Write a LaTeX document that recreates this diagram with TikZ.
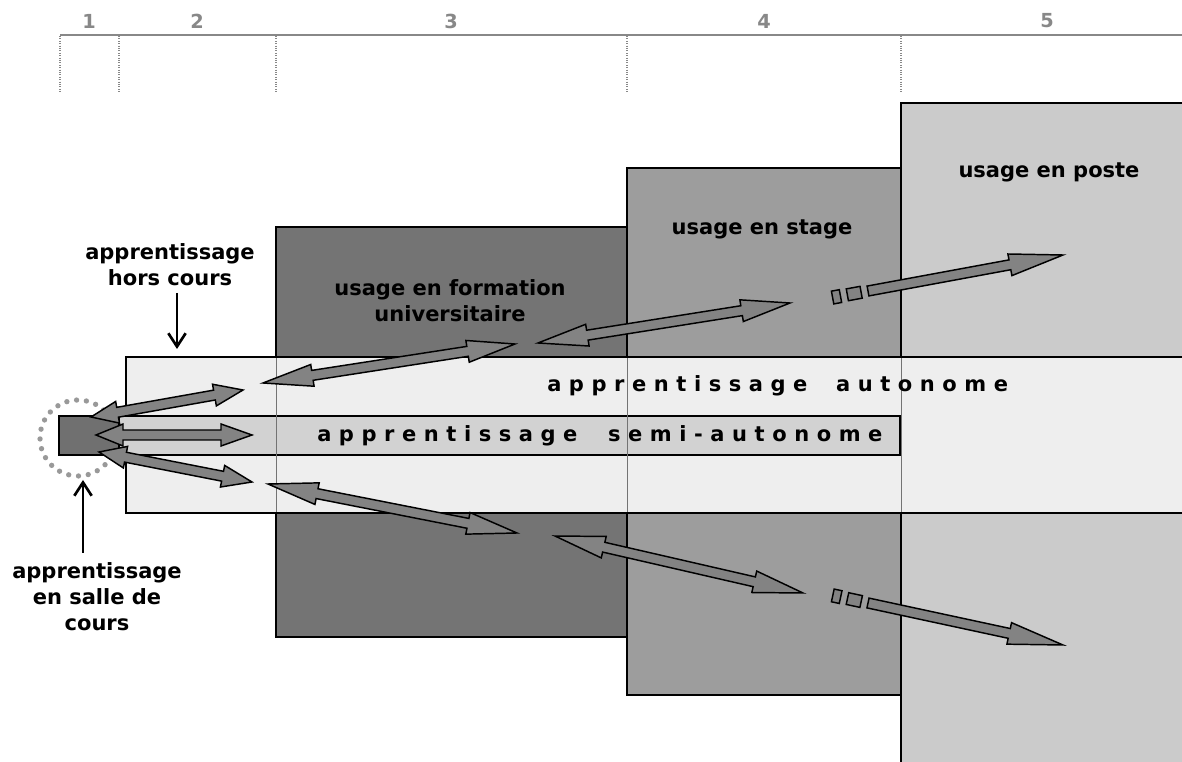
\documentclass[tikz,border=0pt]{standalone}
\usepackage{fontspec}
\setmainfont{DejaVu Sans}
\usetikzlibrary{arrows.meta}
\definecolor{cform}{HTML}{747474}
\definecolor{cstage}{HTML}{9D9D9D}
\definecolor{cposte}{HTML}{CBCBCB}
\definecolor{cauto}{HTML}{EEEEEE}
\definecolor{csemi}{HTML}{D2D2D2}
\definecolor{csq}{HTML}{707070}
\definecolor{carr}{HTML}{838383}
\definecolor{cruler}{HTML}{888888}

\makeatletter
\newcommand\spacedword[1]{\@tfor\spw:=#1\do{\spw\kern0.36em}}
\makeatother

\newcommand\fathw{11}
\newcommand\fatsw{5}
\newcommand\fatgeom[2]{%
  \pgfpointdiff{\pgfpointanchor{#1}{center}}{\pgfpointanchor{#2}{center}}%
  \pgfgetlastxy{\fatdx}{\fatdy}%
  \pgfmathparse{atan2(\fatdy,\fatdx)}\global\let\fatang\pgfmathresult
  \pgfmathparse{veclen(\fatdx,\fatdy)/0.75}\global\let\fatL\pgfmathresult}
\newcommand\dblarrow[4]{%
  \fatgeom{#1}{#2}%
  \begin{scope}[shift={(#1)}, rotate=\fatang, x=0.75pt, y=0.75pt]
    \draw[fatarr] (0,0) -- (#3,\fathw) -- (#3,\fatsw) -- ({\fatL-#4},\fatsw) -- ({\fatL-#4},\fathw) -- (\fatL,0)
      -- ({\fatL-#4},-\fathw) -- ({\fatL-#4},-\fatsw) -- (#3,-\fatsw) -- (#3,-\fathw) -- cycle;
  \end{scope}}
\newcommand\sglarrow[3]{%
  \fatgeom{#1}{#2}%
  \begin{scope}[shift={(#1)}, rotate=\fatang, x=0.75pt, y=0.75pt]
    \draw[fatarr] (0,\fatsw) -- ({\fatL-#3},\fatsw) -- ({\fatL-#3},\fathw) -- (\fatL,0)
      -- ({\fatL-#3},-\fathw) -- ({\fatL-#3},-\fatsw) -- (0,-\fatsw) -- cycle;
    \draw[fatarr] (-21,-6) rectangle (-7,6);
    \draw[fatarr] (-36,-6.5) rectangle (-28,6.5);
  \end{scope}}

\tikzset{
  fatarr/.style={fill=carr, draw=black, line width=1.1pt, line join=miter},
  boxline/.style={draw=black, line width=1pt},
  lbl/.style={font=\bfseries\fontsize{15.75}{19.5}\selectfont, align=center, inner sep=0pt},
  spaced/.style={font=\bfseries\fontsize{15.75}{19.5}\selectfont, inner sep=0pt, anchor=base west},
  rulernum/.style={font=\bfseries\fontsize{14.5}{16}\selectfont, text=cruler, inner sep=0pt},
  ruledot/.style={draw=cruler, line width=0.8pt, dash pattern=on 0.8pt off 1pt},
  labelarrow/.style={draw=black, line width=2pt, -{Straight Barb[length=10pt,width=13pt]}},
}

\begin{document}
\begin{tikzpicture}[x=0.75pt,y=-0.75pt]
\useasboundingbox (0,0) rectangle (1182,762);
\fill[white] (0,0) rectangle (1182,762);
% ruler
\draw[draw=cruler, line width=1.5pt] (60,35) -- (1182,35);
\foreach \rx in {60,119,276,627,901}{\draw[ruledot] (\rx,36) -- (\rx,93);}
\foreach \rn/\rx in {1/89,2/197,3/451,4/764,5/1047}{\node[rulernum] (r\rn) at (\rx,21) {\rn};}

% boxes
\draw[boxline, fill=cposte] (901,103) rectangle (1195,775);
\draw[boxline, fill=cstage] (627,168) rectangle (901,695);
\draw[boxline, fill=cform] (276,227) rectangle (627,637);
\draw[boxline, fill=cauto] (126,357) rectangle (1195,513);
\draw[boxline, fill=csemi] (119,416) rectangle (900,455);
\foreach \rx in {276,627,901}{\draw[draw=black!55, line width=0.6pt] (\rx,358) -- (\rx,512);}

% dotted circle and classroom square
\draw[draw=gray!80, line width=4pt, line cap=round, dash pattern=on 0pt off 7.4pt] (78,438) circle[radius=38];
\draw[boxline, fill=csq] (59,416) rectangle (119,455);

% arrows
\coordinate (a1l) at (91,417);  \coordinate (a1r) at (243,390);
\coordinate (a2l) at (96,435);  \coordinate (a2r) at (252,435);
\coordinate (a3l) at (99,452);  \coordinate (a3r) at (252,482);
\coordinate (a4l) at (263,383); \coordinate (a4r) at (515,344);
\coordinate (a5l) at (268,484); \coordinate (a5r) at (517,533);
\coordinate (a6l) at (538,343); \coordinate (a6r) at (790,303);
\coordinate (a7t) at (868,291); \coordinate (a7h) at (1063,255);
\coordinate (a8l) at (555,536); \coordinate (a8r) at (803,593);
\coordinate (a9t) at (868,603); \coordinate (a9h) at (1063,645);
\dblarrow{a1l}{a1r}{27}{29}
\dblarrow{a2l}{a2r}{27}{31}
\dblarrow{a3l}{a3r}{27}{30}
\dblarrow{a4l}{a4r}{50}{48}
\dblarrow{a5l}{a5r}{50}{50}
\dblarrow{a6l}{a6r}{50}{49}
\sglarrow{a7t}{a7h}{54}
\dblarrow{a8l}{a8r}{50}{50}
\sglarrow{a9t}{a9h}{55}

% texts
\node[lbl] (formation) at (450,301) {usage en formation\\universitaire};
\node[lbl] (stage) at (762,229) {usage en stage};
\node[lbl] (poste) at (1049,172) {usage en poste};
\node[spaced] (auto) at (547,392) {\spacedword{apprentissage}\hspace{1em}\spacedword{autonome}};
\node[spaced] (semi) at (317,442) {\spacedword{apprentissage}\hspace{1.1em}\spacedword{semi-autonome}};
\node[lbl] (hors) at (170,265) {apprentissage\\hors cours};
\node[lbl] (salle) at (97,597) {apprentissage\\en salle de\\cours};

% label arrows
\coordinate (hcs) at (177,293); \coordinate (hce) at (177,349);
\draw[labelarrow] (hcs) -- (hce);
\coordinate (scs) at (83,553); \coordinate (sce) at (83,480);
\draw[labelarrow] (scs) -- (sce);
\end{tikzpicture}
\end{document}
